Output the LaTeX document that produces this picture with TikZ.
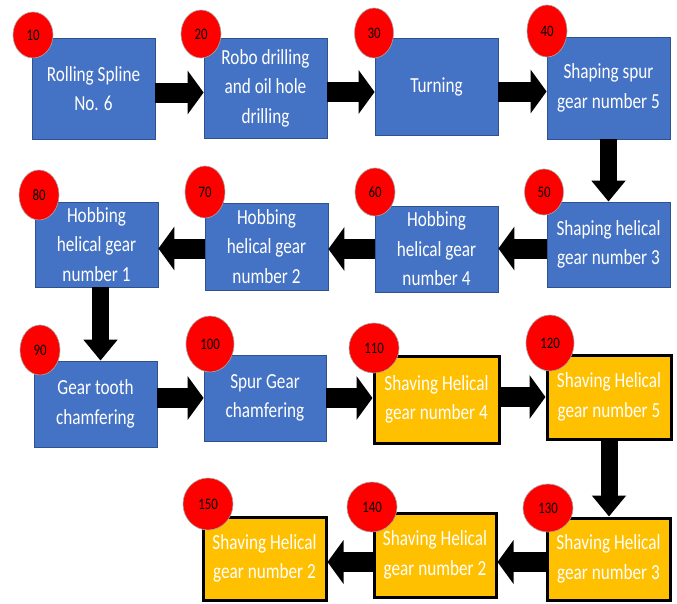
\documentclass[tikz,border=0pt]{standalone}
\usepackage{fontspec}
\setmainfont{Carlito}[FakeStretch=0.8]
\usetikzlibrary{arrows.meta,shapes.geometric}
\definecolor{boxblue}{HTML}{4472C4}
\definecolor{boxedge}{HTML}{2F528F}
\definecolor{gold}{HTML}{FFC000}
\begin{document}
\begin{tikzpicture}[x=1pt,y=-1pt,
  box/.style={draw=boxedge, line width=0.8pt, fill=boxblue, text=white, align=center,
    inner sep=0pt, font=\fontsize{21.5}{29.5}\selectfont},
  gbox/.style={box, draw=black, line width=3pt, fill=gold},
  num/.style={ellipse, draw=black!35, line width=0.6pt, fill=red, inner sep=0pt,
    font=\fontsize{16}{16}\selectfont},
  flowh/.style={line width=20pt, -{Triangle[length=16pt,width=43pt]}},
  flowv/.style={line width=17pt, -{Triangle[length=21pt,width=33pt]}}]
\useasboundingbox (0,0) rectangle (677,603);
% boxes
\node[box, minimum width=123pt, minimum height=101pt] (b10) at (93.5,88.5) {Rolling Spline\\No. 6};
\node[box, minimum width=123pt, minimum height=100pt] (b20) at (265.5,88) {Robo drilling\\and oil hole\\drilling};
\node[box, minimum width=123pt, minimum height=97pt] (b30) at (436.5,86.5) {Turning};
\node[box, minimum width=123pt, minimum height=102pt] (b40) at (608.5,88) {Shaping spur\\gear number 5};
\node[box, minimum width=123pt, minimum height=85pt] (b50) at (608.5,244.5) {Shaping helical\\gear number 3};
\node[box, minimum width=123pt, minimum height=86pt] (b60) at (436.5,249) {Hobbing\\helical gear\\number 4};
\node[box, minimum width=123pt, minimum height=87pt] (b70) at (266.5,246.5) {Hobbing\\helical gear\\number 2};
\node[box, minimum width=123pt, minimum height=85pt] (b80) at (96.5,244.5) {Hobbing\\helical gear\\number 1};
\node[box, minimum width=123pt, minimum height=86pt] (b90) at (95.5,404) {Gear tooth\\chamfering};
\node[box, minimum width=122pt, minimum height=86pt] (b100) at (265,398) {Spur Gear\\chamfering};
\node[gbox, minimum width=125pt, minimum height=87pt] (b110) at (436.5,399.5) {Shaving Helical\\gear number 4};
\node[gbox, minimum width=124pt, minimum height=84pt] (b120) at (609,397) {Shaving Helical\\gear number 5};
\node[gbox, minimum width=123pt, minimum height=82pt] (b130) at (608.5,559) {Shaving Helical\\gear number 3};
\node[gbox, minimum width=122pt, minimum height=84pt] (b140) at (435,555) {Shaving Helical\\gear number 2};
\node[gbox, minimum width=123pt, minimum height=83pt] (b150) at (264.5,558.5) {Shaving Helical\\gear number 2};
% arrows
\draw[flowh] ([yshift=-4pt]b10.east) -- ([yshift=-4pt]b10.east -| b20.west);
\draw[flowh] ([yshift=-4pt]b20.east) -- ([yshift=-4pt]b20.east -| b30.west);
\draw[flowh] ([yshift=-5pt]b30.east) -- ([yshift=-5pt]b30.east -| b40.west);
\draw[flowv] (b40.south) -- (b40.south |- b50.north);
\draw[flowh] ([yshift=-4pt]b50.west) -- ([yshift=-4pt]b50.west -| b60.east);
\draw[flowh] (b60.west) -- (b60.west -| b70.east);
\draw[flowh] ([yshift=-2pt]b70.west) -- ([yshift=-2pt]b70.west -| b80.east);
\draw[flowv] ([xshift=4pt]b80.south) -- ([xshift=4pt]b80.south |- b90.north);
\draw[flowh] (b90.east |- b100.center) -- (b100.west);
\draw[flowh] (b100.east) -- (b100.east -| b110.west);
\draw[flowh] (b110.east |- b120.center) -- (b120.west);
\draw[flowv] (b120.south) -- (b120.south |- b130.north);
\draw[flowh] ([yshift=-3pt]b130.west) -- ([yshift=-3pt]b130.west -| b140.east);
\draw[flowh] ([yshift=-7pt]b140.west) -- ([yshift=-7pt]b140.west -| b150.east);
% numbers
\node[num, minimum width=40pt, minimum height=46pt] (c10) at (33,35) {10};
\node[num, minimum width=40pt, minimum height=48pt] (c20) at (201,34) {20};
\node[num, minimum width=39pt, minimum height=50pt] (c30) at (374,33) {30};
\node[num, minimum width=40pt, minimum height=52pt] (c40) at (547,31) {40};
\node[num, minimum width=39pt, minimum height=46pt] (c50) at (544,192) {50};
\node[num, minimum width=40pt, minimum height=48pt] (c60) at (375,192) {60};
\node[num, minimum width=40pt, minimum height=52pt] (c70) at (205,192) {70};
\node[num, minimum width=40pt, minimum height=50pt] (c80) at (39,195) {80};
\node[num, minimum width=40pt, minimum height=50pt] (c90) at (40,350) {90};
\node[num, minimum width=48pt, minimum height=56pt] (c100) at (210,344) {100};
\node[num, minimum width=50pt, minimum height=50pt] (c110) at (374,348) {110};
\node[num, minimum width=48pt, minimum height=56pt] (c120) at (550,343) {120};
\node[num, minimum width=50pt, minimum height=48pt] (c130) at (548,508) {130};
\node[num, minimum width=50pt, minimum height=50pt] (c140) at (372,507) {140};
\node[num, minimum width=50pt, minimum height=52pt] (c150) at (208,504) {150};
\end{tikzpicture}
\end{document}
